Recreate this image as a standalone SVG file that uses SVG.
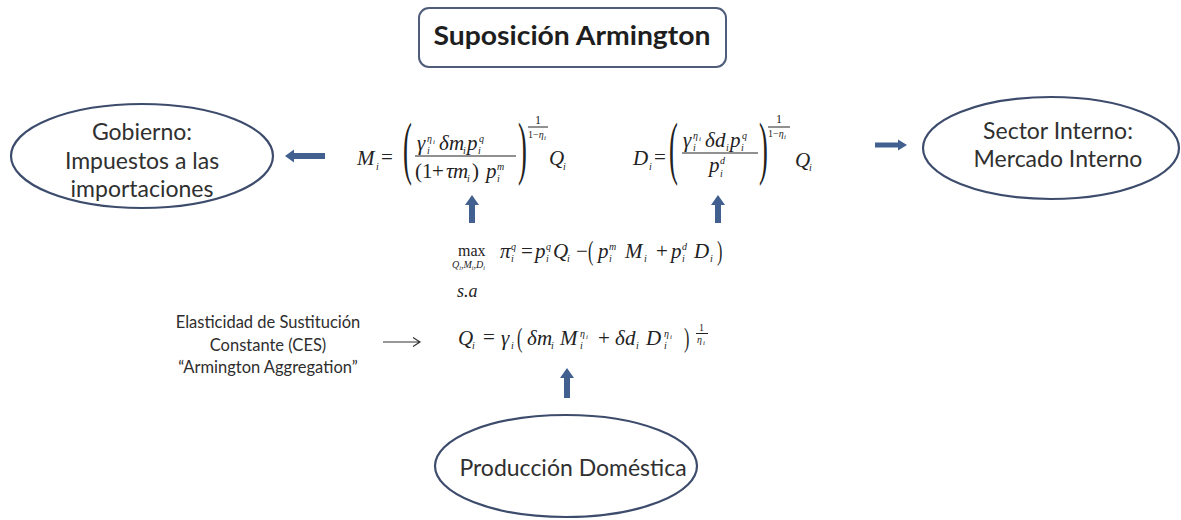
<svg xmlns="http://www.w3.org/2000/svg" width="1181" height="520" viewBox="0 0 1181 520">
<style>
.node{fill:#fff;stroke:#3d4c6c;stroke-width:2.2}
.lbl{font-family:Lato,"Liberation Sans",sans-serif;font-size:23px;fill:#303030;text-anchor:middle}
.ces{font-family:Lato,"Liberation Sans",sans-serif;font-size:16.5px;fill:#2e2e2e;text-anchor:middle}
.m{font-family:"Liberation Serif","Times New Roman",serif;font-size:21px;font-style:italic;fill:#222}
.r{font-style:normal}
.sp{font-size:12px}
.sb{font-size:10px}
.fl{stroke:#222;stroke-width:1}
.thick{fill:#41608f}
</style>
<rect width="1181" height="520" fill="#fff"/>

<g id="title">
<rect x="419" y="8" width="307" height="59" rx="10" ry="10" fill="#fff" stroke="#4f5d7a" stroke-width="2"/>
<text x="572" y="45" text-anchor="middle" font-family="Lato,'Liberation Sans',sans-serif" font-weight="bold" font-size="27" fill="#1e1e1e" textLength="277" lengthAdjust="spacingAndGlyphs">Suposición Armington</text>
</g>

<g id="gobierno">
<ellipse class="node" cx="142" cy="156" rx="131" ry="52"/>
<text class="lbl" x="142" y="140">Gobierno:</text>
<text class="lbl" x="142" y="169">Impuestos a las</text>
<text class="lbl" x="142" y="197">importaciones</text>
</g>

<g id="sector">
<ellipse class="node" cx="1051" cy="148" rx="128" ry="51"/>
<text class="lbl" x="1058" y="139">Sector Interno:</text>
<text class="lbl" x="1058" y="167">Mercado Interno</text>
</g>

<g id="produccion">
<ellipse class="node" cx="566" cy="466" rx="131" ry="51"/>
<text class="lbl" x="573" y="476">Producción Doméstica</text>
</g>

<g id="ces-label">
<text class="ces" x="268" y="328">Elasticidad de Sustitución</text>
<text class="ces" x="268" y="351">Constante (CES)</text>
<text class="ces" x="268" y="373">“Armington Aggregation”</text>
</g>

<g id="eq-m" class="m">
<text x="357" y="165">M</text><text class="sb" x="376" y="170">i</text>
<text class="r" x="381" y="164">=</text>
<text class="r" font-size="70" transform="translate(403,171) scale(0.38,1)">(</text>
<text x="417" y="150">γ</text><text class="sb" x="427" y="142">η</text><text class="sb" style="font-size:7px" x="433" y="144">i</text><text class="sb" x="427" y="154">i</text>
<text x="439" y="150">δ</text><text x="449" y="150">m</text><text class="sb" x="463" y="154">i</text>
<text x="467" y="150">p</text><text class="sb" x="479" y="142">q</text><text class="sb" x="478" y="154">i</text>
<line class="fl" x1="415" y1="156" x2="516" y2="156"/>
<text class="r" x="415" y="178">(</text><text class="r" x="422" y="178">1</text><text class="r" x="432" y="178">+</text>
<text x="446" y="178">τ</text><text x="453" y="178">m</text><text class="sb" x="467" y="182">i</text>
<text class="r" x="472" y="178">)</text>
<text x="486" y="178">p</text><text class="sb" x="497" y="170">m</text><text class="sb" x="497" y="182">i</text>
<text class="r" font-size="70" transform="translate(518,171) scale(0.38,1)">)</text>
<text class="r sp" x="535" y="124">1</text>
<line class="fl" x1="528" y1="127" x2="548" y2="127"/>
<text class="sb" x="528" y="138"><tspan font-style="normal">1−</tspan>η</text><text class="sb" style="font-size:7px" x="544" y="140">i</text>
<text x="549" y="165">Q</text><text class="sb" x="563" y="170">i</text>
</g>

<g id="eq-d" class="m">
<text x="633" y="165">D</text><text class="sb" x="649" y="170">i</text>
<text class="r" x="654" y="164">=</text>
<text class="r" font-size="70" transform="translate(669,171) scale(0.38,1)">(</text>
<text x="683" y="147">γ</text><text class="sb" x="693" y="139">η</text><text class="sb" style="font-size:7px" x="699" y="141">i</text><text class="sb" x="693" y="151">i</text>
<text x="705" y="147">δ</text><text x="715" y="147">d</text><text class="sb" x="726" y="151">i</text>
<text x="730" y="147">p</text><text class="sb" x="742" y="139">q</text><text class="sb" x="741" y="151">i</text>
<line class="fl" x1="682" y1="153" x2="758" y2="153"/>
<text x="709" y="172">p</text><text class="sb" x="720" y="164">d</text><text class="sb" x="720" y="177">i</text>
<text class="r" font-size="70" transform="translate(759,171) scale(0.38,1)">)</text>
<text class="r sp" x="776" y="123">1</text>
<line class="fl" x1="768" y1="127" x2="790" y2="127"/>
<text class="sb" x="768" y="137"><tspan font-style="normal">1−</tspan>η</text><text class="sb" style="font-size:7px" x="784" y="139">i</text>
<text x="795" y="167">Q</text><text class="sb" x="809" y="171">i</text>
</g>

<g id="eq-max" class="m">
<text class="r" x="458" y="256" font-size="16">max</text>
<text class="sb" x="452" y="268" font-size="9">Q<tspan dy="2" font-size="6">i</tspan><tspan dy="-2">,M</tspan><tspan dy="2" font-size="6">i</tspan><tspan dy="-2">,D</tspan><tspan dy="2" font-size="6">i</tspan></text>
<text x="500" y="258">π</text><text class="sb" x="511" y="250">q</text><text class="sb" x="511" y="262">i</text>
<text class="r" x="521" y="258">=</text>
<text x="535" y="258">p</text><text class="sb" x="546" y="250">q</text><text class="sb" x="546" y="262">i</text>
<text x="553" y="258">Q</text><text class="sb" x="567" y="262">i</text>
<text class="r" x="576" y="258">−</text>
<text class="r" font-size="27" transform="translate(588,260) scale(0.6,1)">(</text>
<text x="598" y="258">p</text><text class="sb" x="609" y="250">m</text><text class="sb" x="609" y="262">i</text>
<text x="625" y="258">M</text><text class="sb" x="644" y="262">i</text>
<text class="r" x="656" y="258">+</text>
<text x="671" y="258">p</text><text class="sb" x="682" y="250">d</text><text class="sb" x="682" y="262">i</text>
<text x="694" y="258">D</text><text class="sb" x="710" y="262">i</text>
<text class="r" font-size="27" transform="translate(717,260) scale(0.6,1)">)</text>
</g>

<g id="eq-sa" class="m">
<text x="457" y="297" font-size="18">s.a</text>
</g>

<g id="eq-q" class="m">
<text x="458" y="345">Q</text><text class="sb" x="472" y="349">i</text>
<text class="r" x="483" y="344">=</text>
<text x="501" y="345">γ</text><text class="sb" x="511" y="349">i</text>
<text class="r" font-size="27" transform="translate(517,347) scale(0.6,1)">(</text>
<text x="527" y="345">δ</text><text x="537" y="345">m</text><text class="sb" x="551" y="349">i</text>
<text x="560" y="345">M</text><text class="sb" x="580" y="337">η</text><text class="sb" style="font-size:7px" x="586" y="339">i</text><text class="sb" x="580" y="349">i</text>
<text class="r" x="598" y="345">+</text>
<text x="615" y="345">δ</text><text x="625" y="345">d</text><text class="sb" x="636" y="349">i</text>
<text x="646" y="345">D</text><text class="sb" x="664" y="337">η</text><text class="sb" style="font-size:7px" x="670" y="339">i</text><text class="sb" x="664" y="349">i</text>
<text class="r" font-size="27" transform="translate(684,347) scale(0.6,1)">)</text>
<text class="r sb" x="699" y="331">1</text>
<line class="fl" x1="696" y1="333.5" x2="708" y2="333.5"/>
<text class="sb" x="697" y="343">η</text><text class="sb" style="font-size:7px" x="703" y="345">i</text>
</g>

<g id="connectors">
<polygon class="thick" points="285,156 294,149.5 294,153 325,153 325,159 294,159 294,162.5"/>
<polygon class="thick" points="907,145 898,139.5 898,142.5 875,142.5 875,147.5 898,147.5 898,150.5"/>
<polygon class="thick" points="472,195 479,205 475,205 475,223 469,223 469,205 465,205"/>
<polygon class="thick" points="718,195 725,205 721,205 721,223 715,223 715,205 711,205"/>
<polygon class="thick" points="567,368 574,378 570,378 570,398 564,398 564,378 560,378"/>
<path d="M383,342 H419 M413,337.5 L420,342 L413,346.5" fill="none" stroke="#333" stroke-width="1.2"/>
</g>
</svg>
